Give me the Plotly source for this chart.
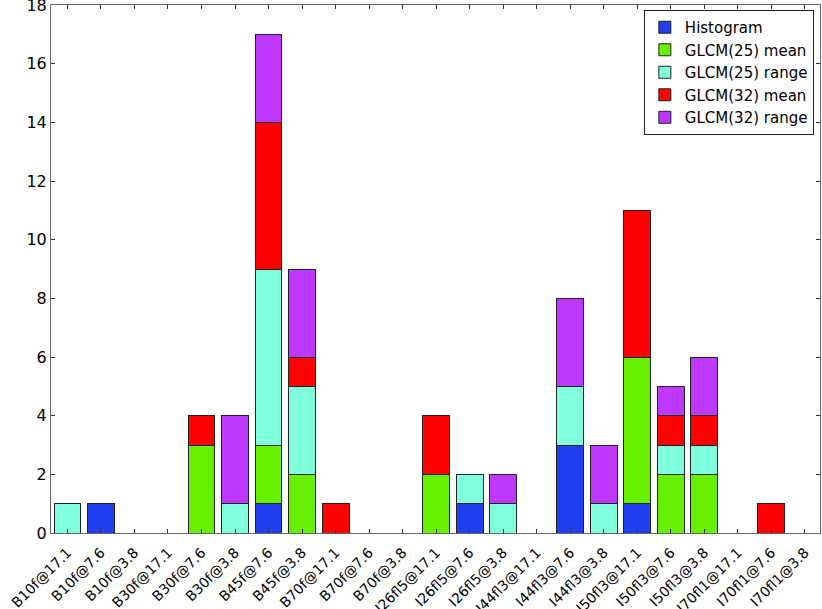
import plotly.graph_objects as go

categories = ["B10f@17.1", "B10f@7.6", "B10f@3.8", "B30f@17.1", "B30f@7.6", "B30f@3.8",
              "B45f@7.6", "B45f@3.8", "B70f@17.1", "B70f@7.6", "B70f@3.8",
              "I26fl5@17.1", "I26fl5@7.6", "I26fl5@3.8", "I44fl3@17.1", "I44fl3@7.6",
              "I44fl3@3.8", "I50fl3@17.1", "I50fl3@7.6", "I50fl3@3.8",
              "I70fl1@17.1", "I70fl1@7.6", "I70fl1@3.8"]

histogram    = [0, 1, 0, 0, 0, 0, 1, 0, 0, 0, 0, 0, 1, 0, 0, 3, 0, 1, 0, 0, 0, 0, 0]
glcm25_mean  = [0, 0, 0, 0, 3, 0, 2, 2, 0, 0, 0, 2, 0, 0, 0, 0, 0, 5, 2, 2, 0, 0, 0]
glcm25_range = [1, 0, 0, 0, 0, 1, 6, 3, 0, 0, 0, 0, 1, 1, 0, 2, 1, 0, 1, 1, 0, 0, 0]
glcm32_mean  = [0, 0, 0, 0, 1, 0, 5, 1, 1, 0, 0, 2, 0, 0, 0, 0, 0, 5, 1, 1, 0, 1, 0]
glcm32_range = [0, 0, 0, 0, 0, 3, 3, 3, 0, 0, 0, 0, 0, 1, 0, 3, 2, 0, 1, 2, 0, 0, 0]

series = [
    ("Histogram", histogram, "#2040F0"),
    ("GLCM(25) mean", glcm25_mean, "#66F000"),
    ("GLCM(25) range", glcm25_range, "#80FFDC"),
    ("GLCM(32) mean", glcm32_mean, "#FF0000"),
    ("GLCM(32) range", glcm32_range, "#BF38FF"),
]

fig = go.Figure()
for name, vals, color in series:
    fig.add_trace(go.Bar(
        x=categories, y=vals, name=name,
        marker=dict(color=color, line=dict(color="#222222", width=1)),
    ))

fig.update_layout(
    width=822, height=609,
    barmode="stack", bargap=0.2,
    paper_bgcolor="white", plot_bgcolor="white",
    margin=dict(l=51, r=2, t=5, b=76, autoexpand=False),
    font=dict(family="DejaVu Sans", size=15, color="black"),
    showlegend=True,
    legend=dict(x=0.992, y=0.9905, xanchor="right", yanchor="top",
                bordercolor="#222222", borderwidth=1, bgcolor="white",
                font=dict(family="DejaVu Sans", size=15, color="black"),
                itemwidth=30, traceorder="normal"),
    xaxis=dict(type="category", range=[-0.49, 22.45], tickangle=-45,
               automargin=False, ticklabeloverflow="allow", ticklabelstandoff=5,
               showline=True, linecolor="#666666", linewidth=1, mirror="ticks",
               ticks="inside", ticklen=4, tickcolor="#333333",
               showgrid=False, zeroline=False,
               tickfont=dict(family="DejaVu Sans", size=14, color="black")),
    yaxis=dict(range=[0, 18], tickmode="linear", tick0=0, dtick=2, automargin=False,
               ticklabeloverflow="allow",
               showline=True, linecolor="#666666", linewidth=1, mirror="ticks",
               ticks="inside", ticklen=4, tickcolor="#333333",
               showgrid=False, zeroline=False,
               tickfont=dict(family="DejaVu Sans", size=16, color="black")),
)

fig.write_html("out.html", config={"displayModeBar": False},
               post_script="document.body.style.margin='0px';")
